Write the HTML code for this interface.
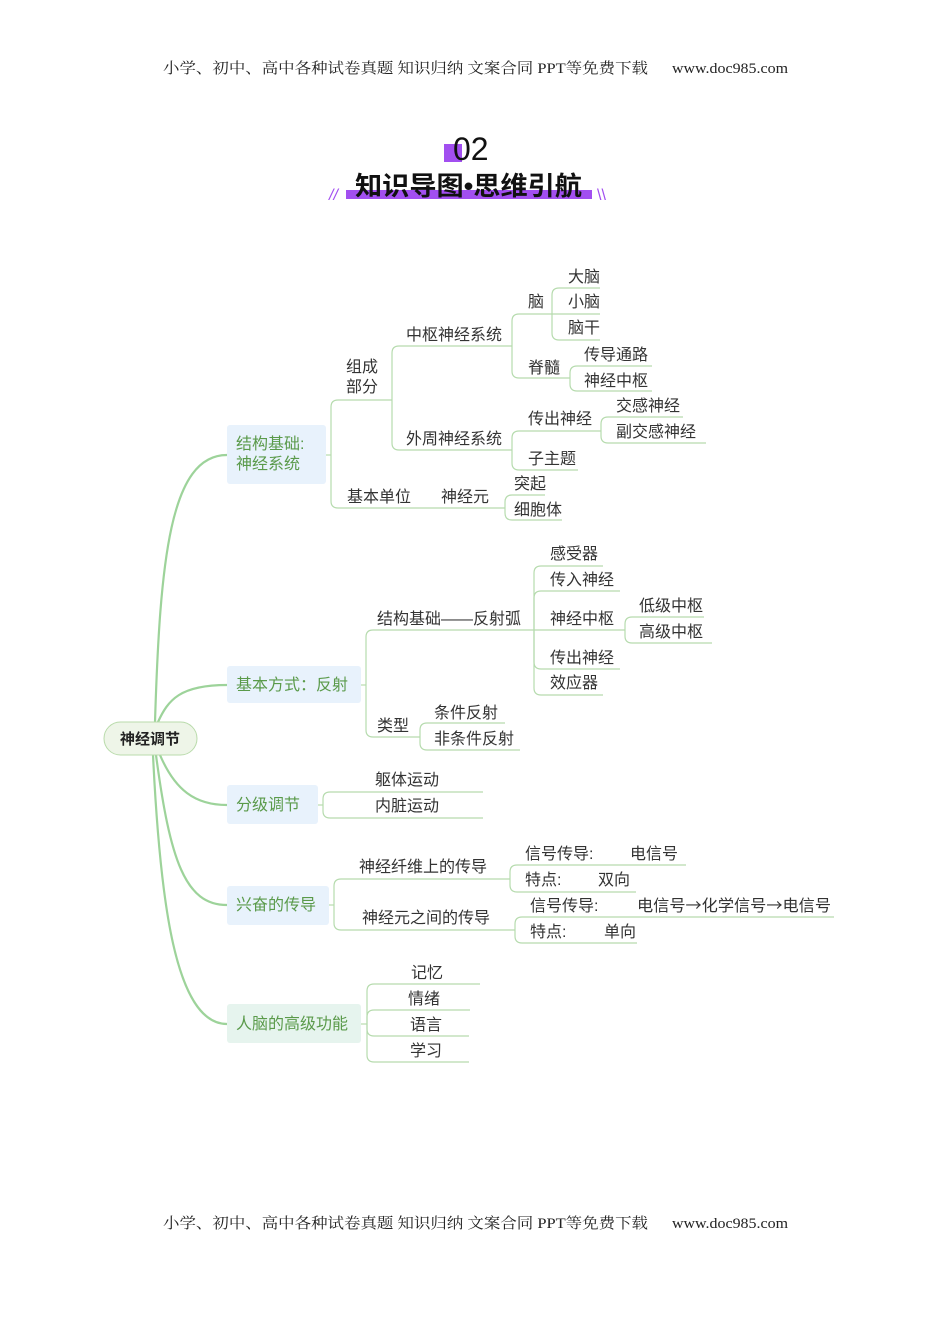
<!DOCTYPE html>
<html><head><meta charset="utf-8"><style>
body{margin:0;background:#fff;width:950px;height:1344px;overflow:hidden}
svg{display:block}
text{font-family:"Liberation Sans","Noto Sans CJK SC",sans-serif;font-size:16px;fill:#333}
.hd{font-family:"Liberation Serif","Noto Serif CJK SC",serif;font-size:15px;fill:#222}
.g{fill:#5a9a4a;font-size:16px}
.cj{font-family:"Noto Sans CJK SC",sans-serif}
</style></head><body>
<svg id="s" width="950" height="1344" viewBox="0 0 950 1344" xmlns="http://www.w3.org/2000/svg">
<text class="hd" x="163" y="73" textLength="485" lengthAdjust="spacingAndGlyphs">小学、初中、高中各种试卷真题 知识归纳 文案合同 PPT等免费下载</text>
<text class="hd" x="672" y="73" textLength="116" lengthAdjust="spacingAndGlyphs">www.doc985.com</text>
<text class="hd" x="163" y="1228" textLength="485" lengthAdjust="spacingAndGlyphs">小学、初中、高中各种试卷真题 知识归纳 文案合同 PPT等免费下载</text>
<text class="hd" x="672" y="1228" textLength="116" lengthAdjust="spacingAndGlyphs">www.doc985.com</text>

<rect x="444" y="144" width="18" height="18" fill="#a24ff0"/>
<text x="453" y="160" style="font-size:32px;fill:#111">02</text>
<rect x="346" y="190" width="246" height="9" fill="#a24ff0"/>
<text x="355" y="195" textLength="227" lengthAdjust="spacingAndGlyphs" style="font-size:26px;font-weight:bold;fill:#111">知识导图•思维引航</text>
<text x="329" y="200" style="font-size:16px;fill:#a24ff0;font-style:italic">//</text>
<text x="597" y="200" style="font-size:16px;fill:#a24ff0">\\</text>

<g id="lines" fill="none" stroke="#b6dbae" stroke-width="1.2"></g>
<g fill="none" stroke="#9dd39a" stroke-width="2.2">
<path d="M155 722 C160 560,170 455,227 455"/>
<path d="M158 722 C168 700,180 685,227 685"/>
<path d="M160 755 C175 790,195 805,227 805"/>
<path d="M156 755 C170 860,185 905,227 905"/>
<path d="M153 755 C160 900,175 1024,227 1024"/>
</g>
<rect x="104" y="722" width="93" height="33" rx="16.5" fill="#eef5e8" stroke="#b9dbab"/>
<text x="150" y="744" text-anchor="middle" style="font-size:15px;font-weight:bold;fill:#222">神经调节</text>

<rect x="227" y="425" width="99" height="59" rx="3" fill="#e8f2fc"/>
<text class="g" x="236" y="449">结构基础:</text><text class="g" x="236" y="469">神经系统</text>
<rect x="227" y="666" width="134" height="37" rx="3" fill="#e8f2fc"/>
<text class="g" x="236" y="690">基本方式：反射</text>
<rect x="227" y="785" width="91" height="39" rx="3" fill="#e8f2fc"/>
<text class="g" x="236" y="810">分级调节</text>
<rect x="227" y="886" width="102" height="39" rx="3" fill="#e8f2fc"/>
<text class="g" x="236" y="910">兴奋的传导</text>
<rect x="227" y="1004" width="134" height="39" rx="3" fill="#e6f4ee"/>
<text class="g" x="236" y="1029">人脑的高级功能</text>

<text x="346" y="372">组成</text><text x="346" y="392">部分</text>
<text x="347" y="502">基本单位</text><text x="441" y="502">神经元</text>
<text x="406" y="340">中枢神经系统</text>
<text x="406" y="444">外周神经系统</text>
<text x="528" y="307">脑</text><text x="528" y="373">脊髓</text>
<text x="568" y="282">大脑</text><text x="568" y="307">小脑</text><text x="568" y="333">脑干</text>
<text x="584" y="360">传导通路</text><text x="584" y="386">神经中枢</text>
<text x="528" y="424">传出神经</text><text x="528" y="464">子主题</text>
<text x="616" y="411">交感神经</text><text x="616" y="437">副交感神经</text>
<text x="514" y="489">突起</text><text x="514" y="515">细胞体</text>

<text x="377" y="624">结构基础——反射弧</text>
<text x="377" y="731">类型</text>
<text x="550" y="559">感受器</text><text x="550" y="585">传入神经</text><text x="550" y="624">神经中枢</text><text x="550" y="663">传出神经</text><text x="550" y="688">效应器</text>
<text x="639" y="611">低级中枢</text><text x="639" y="637">高级中枢</text>
<text x="434" y="718">条件反射</text><text x="434" y="744">非条件反射</text>

<text x="375" y="785">躯体运动</text><text x="375" y="811">内脏运动</text>

<text x="359" y="872">神经纤维上的传导</text><text x="362" y="923">神经元之间的传导</text>
<text x="525" y="859">信号传导:</text><text x="630" y="859">电信号</text>
<text x="525" y="885">特点:</text><text x="598" y="885">双向</text>
<text x="530" y="911">信号传导:</text><text class="cj" x="637" y="911" textLength="194" lengthAdjust="spacingAndGlyphs">电信号→化学信号→电信号</text>
<text x="530" y="937">特点:</text><text x="604" y="937">单向</text>

<text x="411" y="978">记忆</text><text x="408" y="1004">情绪</text><text x="410" y="1030">语言</text><text x="410" y="1056">学习</text>
</svg>
<script>
var g=document.getElementById('lines'),r=7;
function P(d){var p=document.createElementNS('http://www.w3.org/2000/svg','path');p.setAttribute('d',d);g.appendChild(p);}
function B(bx,py,sx,ch){P('M'+sx+' '+py+' L'+bx+' '+py);
ch.forEach(function(c){var y=c[0],e=c[1];
if(Math.abs(y-py)<1){P('M'+bx+' '+y+' L'+e+' '+y);return;}
var s=y>py?-1:1;P('M'+bx+' '+py+' L'+bx+' '+(y+s*r)+' Q'+bx+' '+y+' '+(bx+r)+' '+y+' L'+e+' '+y);});}
B(331,455,326,[[400,392],[508,505]]);
B(392,400,392,[[346,512],[450,512]]);
B(512,346,512,[[314,552],[378,570]]);
B(552,314,552,[[288,600],[314,600],[340,600]]);
B(570,378,570,[[366,652],[391,652]]);
B(512,450,512,[[431,601],[470,578]]);
B(601,431,601,[[417,683],[443,706]]);
B(505,508,505,[[495,545],[520,562]]);
B(366,685,361,[[630,534],[737,420]]);
B(534,630,534,[[566,603],[591,620],[630,625],[669,620],[695,603]]);
B(625,630,625,[[617,704],[643,712]]);
B(420,737,420,[[723,505],[750,520]]);
B(323,805,318,[[792,483],[818,483]]);
B(334,905,329,[[879,510],[930,515]]);
B(510,879,510,[[865,686],[892,636]]);
B(515,930,515,[[917,834],[943,637]]);
B(367,1024,361,[[984,480],[1010,470],[1036,469],[1062,469]]);
</script>
</body></html>
